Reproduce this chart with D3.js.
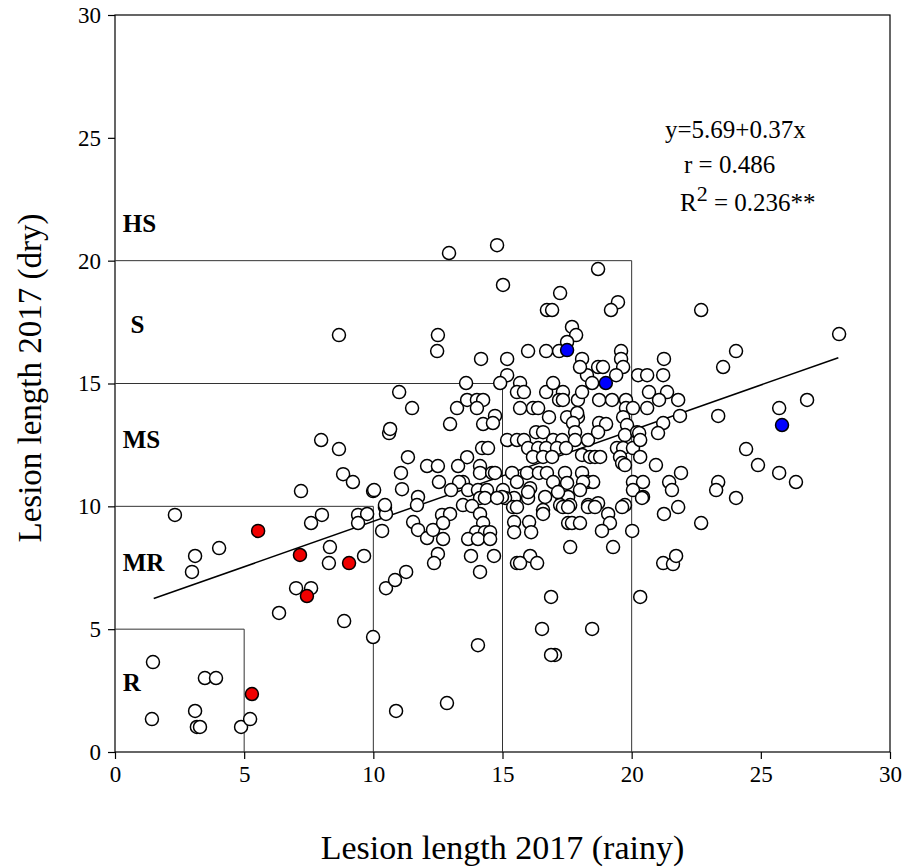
<!DOCTYPE html>
<html>
<head>
<meta charset="utf-8">
<script src="https://cdn.jsdelivr.net/npm/d3@7"></script>
<style>
  body { margin: 0; background: #fff; }
  svg text { font-family: "Liberation Serif", "Times New Roman", serif; }
</style>
</head>
<body>
<svg id="chart" width="908" height="867"></svg>
<script>
// lesion length, rainy (x) vs dry (y), 2017
const openX = [2.32,4.03,3.10,2.98,7.59,8.01,9.41,9.76,9.41,10.45,10.49,10.34,8.32,8.28,9.64,7.01,7.59,6.35,8.87,9.99,10.49,10.84,11.27,1.47,3.48,3.91,1.43,3.10,3.17,3.29,4.88,5.23,10.88,12.85,14.05,
  8.67,7.98,8.67,8.83,9.21,7.20,9.99,10.61,11.0,11.5,
  12.93,14.79,15.02,12.50,12.47,14.17,15.18,15.99,15.18,14.91,13.59,15.68,15.56,15.83,13.24,13.63,14.01,14.25,14.01,16.18,14.71,12.97,14.25,14.63,10.65,15.68,
  18.70,17.23,16.72,16.92,19.47,19.20,17.69,17.85,17.50,16.69,17.19,18.08,18.70,18.89,19.59,19.59,19.67,18.27,18.47,19.40,21.25,20.25,20.60,21.22,
  16.69,16.96,17.34,17.19,17.34,17.92,18.08,18.74,19.24,19.78,19.78,20.67,21.37,21.80,21.06,20.60,20.05,16.38,16.80,17.50,17.92,21.87,21.22,
  15.18,15.56,14.21,14.44,13.63,11.34,12.08,12.50,13.28,14.13,14.13,14.60,14.71,11.07,15.37,15.56,12.54,13.47,13.32,10.03,11.11,13.01,13.67,14.05,14.40,15.02,15.45,15.10,11.73,11.69,13.47,14.13,14.32,10.45,
  18.00,17.89,17.73,18.74,19.01,19.67,19.82,15.83,16.30,16.57,16.96,17.31,17.81,17.81,18.31,18.70,19.74,20.21,15.99,16.38,16.69,17.11,17.46,18.08,18.39,18.58,18.78,19.43,19.67,19.55,20.05,16.18,16.57,16.92,15.95,16.41,16.72,17.42,19.63,19.74,20.33,18.08,18.27,18.51,16.07,16.96,17.50,18.12,20.05,20.44,20.05,20.44,15.99,16.65,17.31,17.54,18.0,18.31,18.70,19.74,17.23,17.62,16.57,
  11.54,11.73,12.08,12.31,12.66,12.97,12.70,12.70,12.50,12.35,13.82,14.13,14.25,13.98,14.32,14.52,13.67,14.05,14.52,13.78,14.67,14.13,14.98,15.41,15.45,15.45,15.56,14.79,
  15.56,16.03,16.11,16.57,17.34,17.54,17.54,17.69,18.0,18.31,18.58,19.09,19.16,18.85,19.63,20.02,15.99,17.15,17.62,19.28,16.07,15.68,16.34,16.88,20.33,16.53,18.47,17.03,16.88,
  22.69,28.03,24.04,23.54,21.02,20.29,23.35,25.71,26.79,20.33,24.43,20.94,24.89,25.71,26.36,21.91,21.45,21.56,20.40,23.35,23.27,24.04,21.80,21.25,22.69,21.22,21.60,21.72];
const openY = [9.65,8.30,7.98,7.33,9.32,9.65,9.65,9.69,9.32,9.97,9.69,9.00,8.34,7.69,7.98,6.67,6.67,5.66,5.33,4.68,6.67,7.00,7.33,3.66,3.01,3.01,1.34,1.67,1.02,1.02,1.02,1.34,1.67,1.99,4.35,
  16.97,12.70,12.33,11.31,10.99,10.62,10.62,12.98,14.65,14.0,
  20.31,20.63,19.01,16.97,16.32,16.0,16.0,16.32,15.34,15.02,15.02,15.02,14.65,14.65,14.0,14.33,14.33,14.33,14.0,14.0,13.68,13.35,13.35,13.39,13.15,14.0,
  19.66,18.68,17.99,17.99,18.31,17.99,17.30,16.97,16.69,16.32,16.32,16.0,15.67,15.67,16.32,16.0,15.67,15.34,15.02,15.34,16.0,15.34,15.34,15.34,
  14.65,15.02,14.65,14.33,14.33,14.33,14.65,14.33,14.33,14.33,14.0,14.65,14.65,14.33,14.33,14.0,14.0,14.0,13.63,13.63,13.63,13.68,13.39,
  12.70,12.70,12.37,12.37,12.0,12.0,11.64,11.64,11.64,11.64,11.36,11.36,11.36,11.36,11.36,10.99,10.99,10.99,10.99,10.66,10.70,10.66,10.66,10.66,10.66,10.66,10.34,10.34,10.38,10.05,10.05,10.34,10.34,10.05,
  15.67,13.80,13.39,13.39,13.35,13.63,13.31,12.70,13.02,13.02,12.70,12.70,13.02,12.70,12.70,13.02,12.90,13.02,12.37,12.37,12.37,12.37,12.37,12.09,12.01,12.01,12.01,12.37,12.37,12.01,12.37,12.01,12.01,12.01,11.36,11.36,11.36,11.36,11.76,11.68,12.01,11.36,10.99,10.99,10.74,10.99,10.95,10.99,10.99,10.99,10.66,10.38,10.34,10.38,10.38,10.38,10.66,10.05,10.13,10.05,10.05,10.05,9.85,
  9.36,9.04,8.71,9.04,9.65,9.69,9.32,8.67,8.06,7.69,10.01,9.69,9.32,8.95,8.95,8.95,8.67,8.67,8.67,7.98,7.98,7.33,10.38,9.97,9.36,8.95,7.69,10.34,
  9.97,9.36,8.95,9.69,9.97,9.97,9.32,9.32,9.32,9.97,9.97,9.69,9.32,9.0,9.97,9.0,10.58,10.58,8.34,8.34,7.98,7.69,7.69,6.31,6.31,5.01,5.01,3.95,3.95,
  17.99,17.01,16.32,15.67,12.98,12.98,13.68,14.0,14.33,12.70,12.33,11.68,11.68,11.36,10.99,11.36,10.99,10.66,10.34,10.99,10.66,10.34,9.97,9.69,9.32,7.69,7.65,7.98];

const redX = [5.54, 7.16, 7.43, 9.06, 5.30];
const redY = [9.00, 8.02, 6.35, 7.69, 2.36];
const blueX = [17.50, 19.00, 25.82];
const blueY = [16.36, 15.02, 13.31];

const fitA = 5.69, fitB = 0.37;
const fitRange = [1.5, 28];
const ticks = [0, 5, 10, 15, 20, 25, 30];
const classCuts = [5, 10, 15, 20];
const classLabels = ["HS", "S", "MS", "MR", "R"];
const classLabelX = [0.3, 0.6, 0.3, 0.3, 0.3];
const classLabelY = [21.4, 17.3, 12.6, 7.6, 2.7];
const statLines = ["y=5.69+0.37x", "r = 0.486"];

const svg = d3.select("#chart");
const mLeft = 115, mRight = 890, mTop = 15, mBottom = 752;
const serif = "'Liberation Serif', 'Times New Roman', serif";

const x = d3.scaleLinear().domain([0, 30]).range([mLeft, mRight]);
const y = d3.scaleLinear().domain([0, 30]).range([mBottom, mTop]);

// frame
svg.append("rect")
    .attr("x", mLeft).attr("y", mTop)
    .attr("width", mRight - mLeft).attr("height", mBottom - mTop)
    .style("fill", "none").style("stroke", "black").style("stroke-width", 1.2);

function styleAxis(g) {
    g.attr("font-family", serif).attr("font-size", 23);
    g.select(".domain").remove();
    g.selectAll("line").style("stroke-width", 1.2);
    g.selectAll("text").style("font-family", serif).style("font-size", "23px");
}

svg.append("g")
    .attr("transform", `translate(0,${mBottom})`)
    .call(d3.axisBottom(x).tickValues(ticks).tickSize(7).tickPadding(7).tickFormat(d3.format("d")))
    .call(styleAxis);

svg.append("g")
    .attr("transform", `translate(${mLeft},0)`)
    .call(d3.axisLeft(y).tickValues(ticks).tickSize(7).tickPadding(7).tickFormat(d3.format("d")))
    .call(styleAxis);

// nested class boxes
const boxes = svg.append("g").attr("class", "classes");
classCuts.forEach(c => {
    boxes.append("line")
        .attr("x1", x(0)).attr("x2", x(c)).attr("y1", y(c)).attr("y2", y(c))
        .style("stroke", "#333").style("stroke-width", 1);
    boxes.append("line")
        .attr("x1", x(c)).attr("x2", x(c)).attr("y1", y(0)).attr("y2", y(c))
        .style("stroke", "#333").style("stroke-width", 1);
});

svg.append("g")
    .selectAll("text")
    .data(classLabels)
    .enter().append("text")
    .attr("x", (d, i) => x(classLabelX[i]))
    .attr("y", (d, i) => y(classLabelY[i]))
    .attr("dominant-baseline", "middle")
    .style("font-size", "25px")
    .style("font-weight", "bold")
    .text(d => d);

// regression line
svg.append("line")
    .attr("x1", x(fitRange[0])).attr("y1", y(fitA + fitB * fitRange[0]))
    .attr("x2", x(fitRange[1])).attr("y2", y(fitA + fitB * fitRange[1]))
    .style("stroke", "black").style("stroke-width", 1.5);

function dots(xs, ys, fill, cls) {
    svg.append("g")
        .attr("class", cls)
        .selectAll("circle")
        .data(d3.zip(xs, ys))
        .enter().append("circle")
        .attr("cx", d => x(d[0]))
        .attr("cy", d => y(d[1]))
        .attr("r", 6.5)
        .style("fill", fill)
        .style("stroke", "black")
        .style("stroke-width", 1.5);
}
dots(openX, openY, "white", "open");
dots(redX, redY, "#f00000", "red");
dots(blueX, blueY, "#0000ff", "blue");

// stats
const stats = svg.append("g").style("font-size", "25px");
stats.append("text").attr("x", 665).attr("y", 138).text(statLines[0]);
stats.append("text").attr("x", 684).attr("y", 173).text(statLines[1]);
const r2 = stats.append("text").attr("x", 680).attr("y", 211);
r2.append("tspan").text("R");
r2.append("tspan").attr("dy", -10).style("font-size", "22px").text("2");
r2.append("tspan").attr("dy", 10).text(" = 0.236**");

// axis titles
svg.append("text")
    .attr("x", (mLeft + mRight) / 2).attr("y", 859)
    .attr("text-anchor", "middle")
    .style("font-size", "34px")
    .text("Lesion length 2017 (rainy)");

svg.append("text")
    .attr("transform", `translate(41,378) rotate(-90)`)
    .attr("text-anchor", "middle")
    .style("font-size", "33px")
    .text("Lesion length 2017 (dry)");
</script>
</body>
</html>
